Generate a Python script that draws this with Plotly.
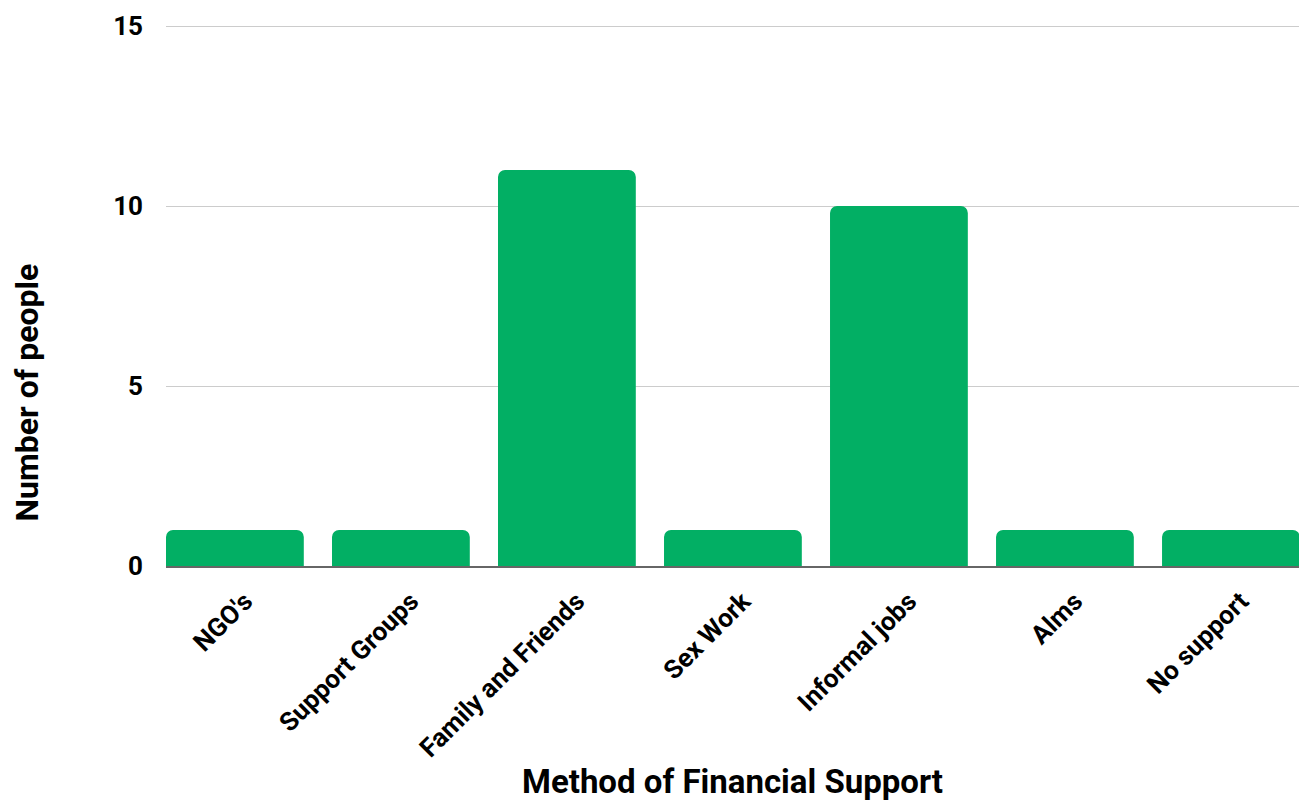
import plotly.graph_objects as go

categories = ["NGO's", "Support Groups", "Family and Friends", "Sex Work", "Informal jobs", "Alms", "No support"]
people = [1, 1, 11, 1, 10, 1, 1]
y_ticks = [0, 5, 10, 15]

FONT = "Roboto"
fig = go.Figure(go.Bar(x=categories, y=people, marker=dict(color="#02AF64", line=dict(width=0))))

fig.update_layout(
    width=1299, height=812,
    margin=dict(l=166, r=0, t=25, b=246),
    plot_bgcolor="white", paper_bgcolor="white",
    bargap=0.17,
    barcornerradius=7,
    showlegend=False,
    font=dict(family=FONT, color="black"),
)
fig.update_xaxes(
    range=[-0.415, 6.41],
    tickangle=-45,
    tickfont=dict(size=26, family=FONT, weight="bold"),
    showline=True, linecolor="#666666", linewidth=1.5,
    ticks="", ticklabelstandoff=8, ticklabelshift=10,
)
fig.update_yaxes(
    range=[0, 15.03], tickvals=y_ticks,
    tickfont=dict(size=26, family=FONT, weight="bold"),
    showgrid=True, gridcolor="#cccccc", gridwidth=1,
    zeroline=False, ticks="", ticklabelstandoff=22,
)
fig.add_annotation(
    text="Method of Financial Support", xref="paper", yref="paper",
    x=0.5, y=0, yshift=-194, xanchor="center", yanchor="top",
    showarrow=False, font=dict(size=33, family=FONT, weight="bold", color="black"),
)
fig.add_annotation(
    text="Number of people", textangle=-90, xref="paper", yref="paper",
    x=0, xshift=-140, y=0.5, yshift=-97, xanchor="center", yanchor="middle",
    showarrow=False, font=dict(size=32, family=FONT, weight="bold", color="black"),
)
fig.write_html("out.html")
